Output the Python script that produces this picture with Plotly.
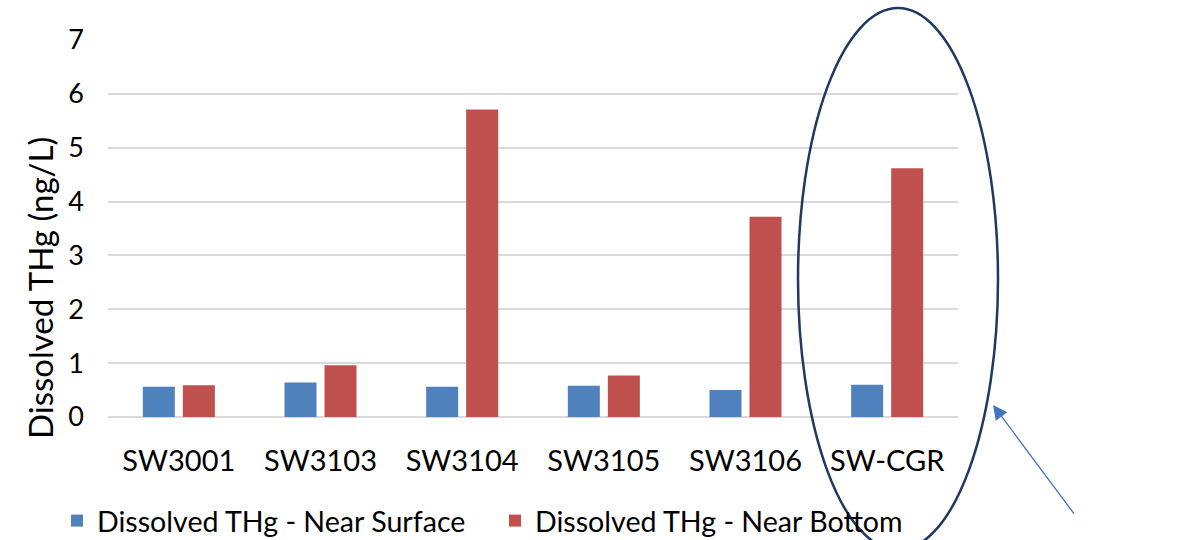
import plotly.graph_objects as go

stations = ["SW3001", "SW3103", "SW3104", "SW3105", "SW3106", "SW-CGR"]
near_surface = [0.56, 0.64, 0.56, 0.58, 0.50, 0.60]
near_bottom = [0.59, 0.96, 5.71, 0.77, 3.72, 4.62]
y_ticks = [0, 1, 2, 3, 4, 5, 6, 7]

FONT = "Lato"
L, R, T, B = 108, 230, 40, 123
W, H = 1188, 540
PW, PH = W - L - R, H - T - B


def px(x):
    return (x - L) / PW


def py(y):
    return (H - B - y) / PH


fig = go.Figure()
fig.add_trace(go.Bar(x=stations, y=near_surface, name="Dissolved THg - Near Surface",
                     marker=dict(color="#4F81BD", line=dict(width=0))))
fig.add_trace(go.Bar(x=stations, y=near_bottom, name="Dissolved THg - Near Bottom",
                     marker=dict(color="#C0504D", line=dict(width=0))))

fig.update_layout(
    width=W, height=H,
    margin=dict(l=L, r=R, t=T, b=B, autoexpand=False),
    paper_bgcolor="white", plot_bgcolor="white",
    barmode="group", bargap=0.435, bargroupgap=0.2,
    font=dict(family=FONT, color="#000000"),
    showlegend=True,
    legend=dict(orientation="h", x=px(57), y=py(521), xanchor="left", yanchor="middle",
                font=dict(family=FONT, size=28.6, color="#000000"),
                entrywidth=393, entrywidthmode="pixels",
                bgcolor="rgba(0,0,0,0)", borderwidth=0),
    xaxis=dict(showgrid=False, showline=False, ticks="", ticklabelstandoff=24,
               tickfont=dict(family=FONT, size=29, color="#000000")),
    yaxis=dict(range=[0, 7], tickvals=y_ticks, showgrid=True, gridcolor="#D9D9D9",
               gridwidth=2, zeroline=True, zerolinecolor="#D9D9D9", zerolinewidth=2,
               showline=False, ticks="", ticklabelstandoff=23,
               tickfont=dict(family=FONT, size=27, color="#000000")),
)

# y-axis title (placed off-centre as in the reference)
fig.add_annotation(xref="paper", yref="paper", x=px(40), y=py(288), text="Dissolved THg (ng/L)",
                   textangle=-90, showarrow=False, xanchor="center", yanchor="middle",
                   font=dict(family=FONT, size=33, color="#000000"))

# highlight ellipse around SW-CGR
fig.add_shape(type="circle", xref="paper", yref="paper",
              x0=px(798), x1=px(998), y0=py(550), y1=py(8),
              line=dict(color="#1F3864", width=2.5), fillcolor="rgba(0,0,0,0)", layer="above")

# pointing arrow
fig.add_annotation(xref="paper", yref="paper", x=px(993), y=py(405), text="",
                   showarrow=True, ax=82, ay=110, axref="pixel", ayref="pixel",
                   arrowhead=2, arrowsize=2.2, arrowwidth=1.3, arrowcolor="#4472C4")

fig.write_html("out.html")
